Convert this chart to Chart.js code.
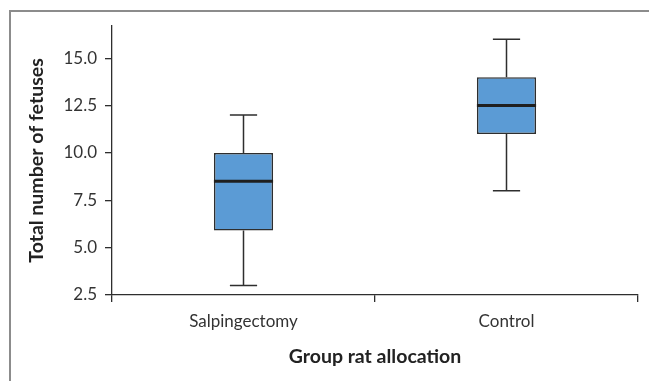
<!DOCTYPE html>
<html>
<head>
<meta charset="utf-8">
<script src="https://cdn.jsdelivr.net/npm/chart.js@4/dist/chart.umd.min.js"></script>
<style>
  html, body { margin: 0; padding: 0; background: #fff; }
  canvas { display: block; }
</style>
</head>
<body>
<canvas id="box-chart" width="649" height="381"></canvas>
<script>
// Box plot data
const groups = ['Salpingectomy', 'Control'];
const minValues = [3, 8];
const q1Values = [5.9, 11];
const medianValues = [8.5, 12.5];
const q3Values = [10, 14];
const maxValues = [12, 16];
const yTicks = [2.5, 5, 7.5, 10, 12.5, 15];

const FONT = 'Lato, "Open Sans", sans-serif';
const AXIS_COLOR = '#2e2e2e';

// Outer frame (top and left rules)
const framePlugin = {
    id: 'frame',
    beforeDraw(chart) {
        const ctx = chart.ctx;
        ctx.save();
        ctx.strokeStyle = '#8c8c8c';
        ctx.lineWidth = 2;
        ctx.beginPath();
        ctx.moveTo(10, 381);
        ctx.lineTo(10, 11);
        ctx.lineTo(649, 11);
        ctx.stroke();
        ctx.restore();
    }
};

// Whiskers and median lines, positioned from the scales
const boxPlugin = {
    id: 'boxParts',
    beforeDatasetsDraw(chart) {
        const ctx = chart.ctx;
        const y = chart.scales.y;
        const bars = chart.getDatasetMeta(0).data;
        ctx.save();
        ctx.strokeStyle = AXIS_COLOR;
        ctx.lineWidth = 1.5;
        bars.forEach((bar, i) => {
            const cx = bar.x;
            const cap = bar.width * 0.23;
            const yMin = y.getPixelForValue(minValues[i]);
            const yMax = y.getPixelForValue(maxValues[i]);
            const yQ1 = y.getPixelForValue(q1Values[i]);
            const yQ3 = y.getPixelForValue(q3Values[i]);
            ctx.beginPath();
            ctx.moveTo(cx, yQ1); ctx.lineTo(cx, yMin);
            ctx.moveTo(cx - cap, yMin); ctx.lineTo(cx + cap, yMin);
            ctx.moveTo(cx, yQ3); ctx.lineTo(cx, yMax);
            ctx.moveTo(cx - cap, yMax); ctx.lineTo(cx + cap, yMax);
            ctx.stroke();
        });
        ctx.restore();
    },
    afterDatasetsDraw(chart) {
        const ctx = chart.ctx;
        const y = chart.scales.y;
        const bars = chart.getDatasetMeta(0).data;
        ctx.save();
        ctx.strokeStyle = '#1f1f1f';
        ctx.lineWidth = 3;
        bars.forEach((bar, i) => {
            const yMed = y.getPixelForValue(medianValues[i]);
            ctx.beginPath();
            ctx.moveTo(bar.x - bar.width / 2, yMed);
            ctx.lineTo(bar.x + bar.width / 2, yMed);
            ctx.stroke();
        });
        ctx.restore();
    }
};

new Chart(document.getElementById('box-chart'), {
    type: 'bar',
    data: {
        labels: groups,
        datasets: [{
            data: groups.map((g, i) => [q1Values[i], q3Values[i]]),
            backgroundColor: '#5b9bd5',
            borderColor: AXIS_COLOR,
            borderWidth: 1.6,
            borderSkipped: false,
            categoryPercentage: 1,
            barPercentage: 0.225
        }]
    },
    options: {
        responsive: false,
        animation: false,
        layout: { padding: { top: 26, right: 11, left: 0, bottom: 0 } },
        plugins: {
            legend: { display: false },
            tooltip: { enabled: false }
        },
        scales: {
            x: {
                offset: true,
                afterFit(scale) { scale.height = 86; },
                grid: {
                    offset: true,
                    drawOnChartArea: false,
                    drawTicks: true,
                    tickLength: 7,
                    color: AXIS_COLOR,
                    lineWidth: 1.3
                },
                border: { color: AXIS_COLOR, width: 1.3 },
                ticks: {
                    color: '#333',
                    padding: 9,
                    font: { family: FONT, size: 17 }
                },
                title: {
                    display: true,
                    text: 'Group rat allocation',
                    color: '#222',
                    padding: { top: 0, bottom: 13 },
                    font: { family: FONT, size: 19.5, weight: 'bold' }
                }
            },
            y: {
                min: 2.5,
                max: 16.7,
                afterFit(scale) { scale.width = 112; },
                afterBuildTicks(scale) {
                    scale.ticks = yTicks.map(v => ({ value: v }));
                },
                grid: {
                    drawOnChartArea: false,
                    drawTicks: true,
                    tickLength: 7,
                    color: AXIS_COLOR,
                    lineWidth: 1.3
                },
                border: { color: AXIS_COLOR, width: 1.3 },
                ticks: {
                    color: '#333',
                    padding: 8,
                    font: { family: FONT, size: 17 },
                    callback: v => Number(v).toFixed(1)
                },
                title: {
                    display: true,
                    text: 'Total number of fetuses',
                    color: '#222',
                    padding: { top: 25, bottom: 0 },
                    font: { family: FONT, size: 19.5, weight: 'bold' }
                }
            }
        }
    },
    plugins: [framePlugin, boxPlugin]
});
</script>
</body>
</html>
